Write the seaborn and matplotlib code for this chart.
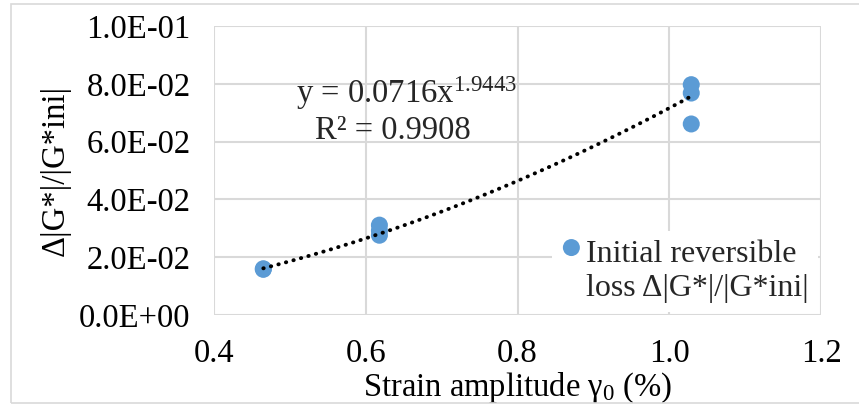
import numpy as np
import seaborn as sns
import matplotlib.pyplot as plt
from matplotlib.patches import Rectangle

# data
strain = [0.465, 0.465, 0.618, 0.618, 0.618, 1.029, 1.029, 1.029]
loss = [0.0160, 0.0158, 0.0311, 0.0292, 0.0276, 0.0797, 0.0768, 0.0661]
# power trendline y = a * x^b (Excel)
coef_a = 0.0716
coef_b = 1.9443
r2 = 0.9908
x_ticks = [0.4, 0.6, 0.8, 1.0, 1.2]
y_ticks = [0.0, 0.02, 0.04, 0.06, 0.08, 0.10]

sns.set_theme(style="white")
plt.rcParams['font.family'] = ['Liberation Serif', 'DejaVu Serif']
plt.rcParams['mathtext.fontset'] = 'custom'
plt.rcParams['mathtext.rm'] = 'Liberation Serif'
plt.rcParams['mathtext.it'] = 'Liberation Serif:italic'
fs = 23.5

fig = plt.figure(figsize=(8.59, 4.05), dpi=100)
ax = fig.add_axes([214 / 859, 1 - 315 / 405, 607 / 859, 289 / 405])

sns.scatterplot(x=strain, y=loss, ax=ax, s=150, color="#5B9BD5", edgecolor="none",
                label="Initial reversible\nloss Δ|G*|/|G*ini|", zorder=3)

xs = np.linspace(min(strain), max(strain), 100)
ax.plot(xs, coef_a * xs ** coef_b, color="black", lw=2.8,
        ls=(0, (0.1, 1.9)), dash_capstyle="round", zorder=4)

ax.set_xlim(x_ticks[0], x_ticks[-1])
ax.set_ylim(y_ticks[0], y_ticks[-1])
ax.set_xticks(x_ticks)
ax.set_yticks(y_ticks)
ax.set_xticklabels([f"{v:.1f}" for v in x_ticks], fontsize=fs)
ax.set_yticklabels([f"{v:.1E}" for v in y_ticks], fontsize=fs)
ax.tick_params(axis="both", length=0, colors="black")
ax.tick_params(axis="y", pad=17)
ax.tick_params(axis="x", pad=17)
ax.grid(True, color="#d9d9d9", lw=1.5)
for s in ax.spines.values():
    s.set_visible(False)

ax.set_xlabel(r"Strain amplitude γ$_{\mathrm{0}}$ (%)", fontsize=fs, color="black", labelpad=1)
ax.set_ylabel("Δ|G*|/|G*ini|", fontsize=fs, color="black", labelpad=6)

ax.text(0.799, 0.0734, r"y = 0.0716x$^{\mathrm{1.9443}}$", fontsize=fs, ha="right", va="baseline")
ax.text(0.739, 0.0609, f"R² = {r2:.4f}", fontsize=fs, ha="right", va="baseline")

leg = ax.legend(loc="lower right", bbox_to_anchor=(0.995, 0.01), fontsize=23,
                frameon=True, fancybox=False, framealpha=1, edgecolor="none",
                handletextpad=0.15, borderpad=0.3, borderaxespad=0,
                handlelength=0.6, labelspacing=0.2)
leg.get_frame().set_facecolor("white")
# marker sits beside the first line of the two-line label
h = leg.legend_handles[0]
h.set_offsets(h.get_offsets() + np.array([0, 19]))

fig.patches.append(Rectangle((11 / 859, 2 / 405), 860 / 859, 399 / 405, transform=fig.transFigure,
                             fill=False, edgecolor="#d9d9d9", lw=1.2))

fig.savefig("out.png", dpi=100)
